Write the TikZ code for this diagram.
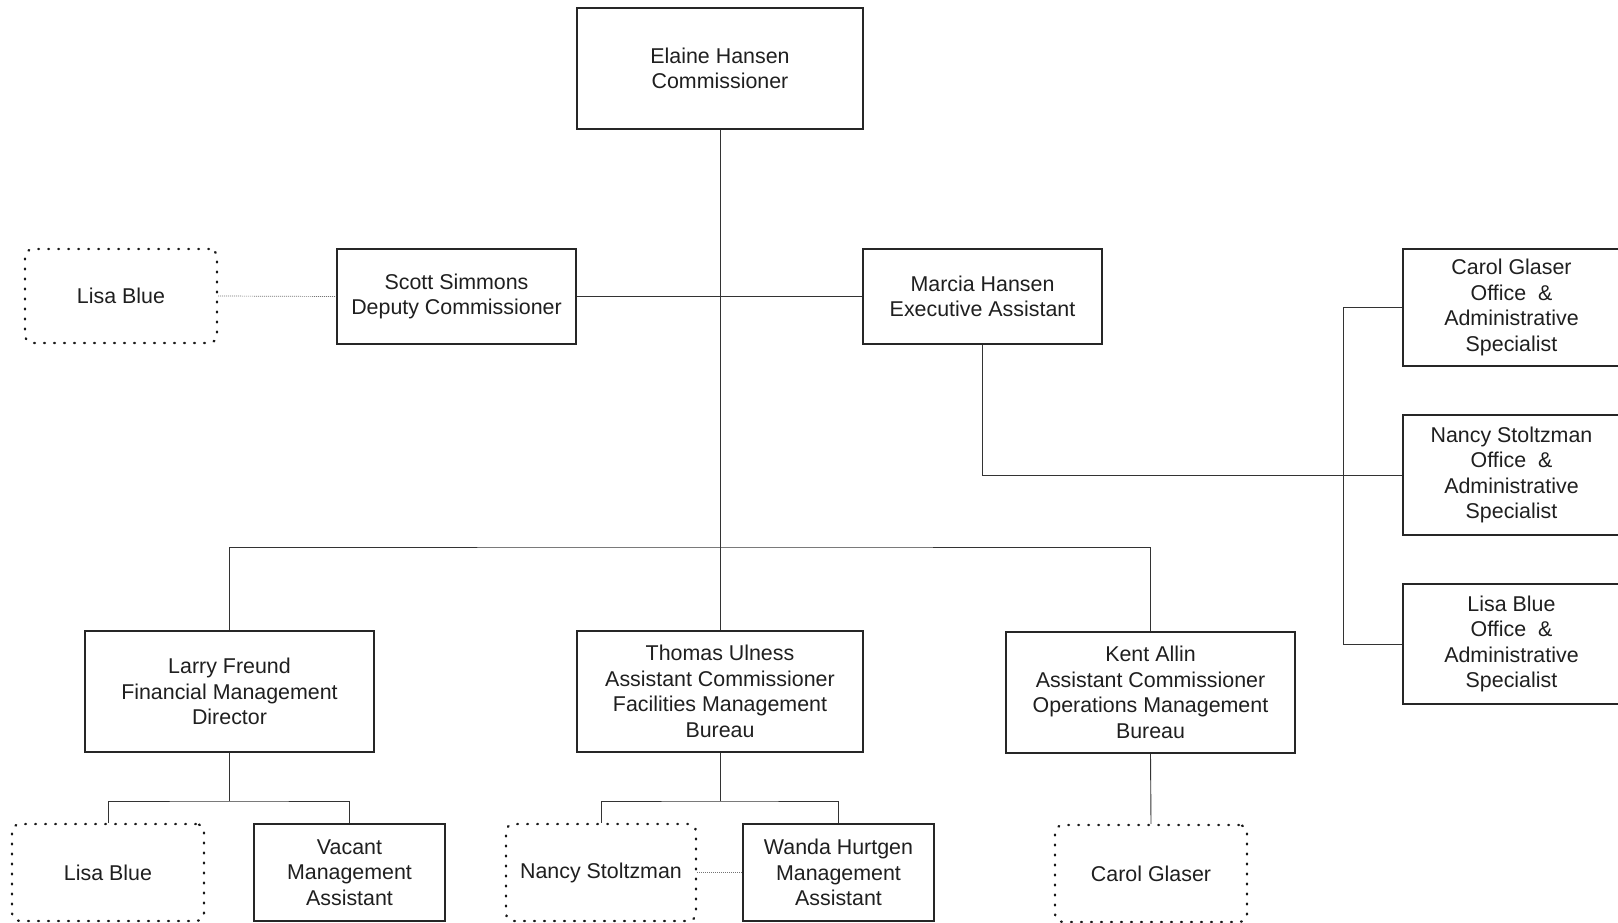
\documentclass[tikz,border=0pt]{standalone}
\usepackage{fontspec}
\setmainfont{Liberation Sans}
\begin{document}
\begin{tikzpicture}[x=1pt,y=-1pt,
  every node/.style={font=\fontsize{21.4}{25.5}\selectfont, text=black!88, align=center, inner sep=0pt},
  solidbox/.style={draw=black!85, line width=1.6pt},
  dotbox/.style={draw=black!90, line width=2.4pt, rounded corners=8pt, dash pattern=on 0.8pt off 9.2pt, line cap=round},
  conn/.style={draw=black!80, line width=0.9pt},
  dotconn/.style={draw=black!55, line width=0.7pt, dash pattern=on 1pt off 1pt}]
\useasboundingbox (0,0) rectangle (1618,923);
\fill[white] (0,0) rectangle (1618,923);
% top
\node[solidbox, minimum width=286pt, minimum height=121pt] (comm) at (720,68.5) {Elaine Hansen\\Commissioner};
\node[solidbox, minimum width=239pt, minimum height=95pt] (scott) at (456.5,296.5) {Scott Simmons\\Deputy Commissioner};
\node[dotbox, minimum width=192pt, minimum height=94pt] (lisa1) at (121,296) {Lisa Blue};
\node[solidbox, minimum width=239pt, minimum height=95pt] (marcia) at (982.5,296.5) {Marcia Hansen\\Executive Assistant};
% right column
\node[solidbox, minimum width=217pt, minimum height=117pt] (carolR) at (1511.5,307.5) {Carol Glaser\\Office\ \ \&\\Administrative\\Specialist};
\node[solidbox, minimum width=217pt, minimum height=120pt] (nancyR) at (1511.5,475) {Nancy Stoltzman\\Office\ \ \&\\Administrative\\Specialist};
\node[solidbox, minimum width=217pt, minimum height=120pt] (lisaR) at (1511.5,644) {Lisa Blue\\Office\ \ \&\\Administrative\\Specialist};
% middle row
\node[solidbox, minimum width=289pt, minimum height=121pt] (larry) at (229.5,691.5) {Larry Freund\\Financial Management\\Director};
\node[solidbox, minimum width=286pt, minimum height=121pt] (thomas) at (720,691.5) {Thomas Ulness\\Assistant Commissioner\\Facilities Management\\Bureau};
\node[solidbox, minimum width=289pt, minimum height=121pt] (kent) at (1150.5,692.5) {Kent Allin\\Assistant Commissioner\\Operations Management\\Bureau};
% bottom row
\node[dotbox, minimum width=192pt, minimum height=97pt] (lisa2) at (108,872.5) {Lisa Blue};
\node[solidbox, minimum width=191pt, minimum height=97pt] (vacant) at (349.5,872.5) {Vacant\\Management\\Assistant};
\node[dotbox, minimum width=190pt, minimum height=97pt] (nancy2) at (601,872.5) {Nancy Stoltzman};
\node[solidbox, minimum width=191pt, minimum height=97pt] (wanda) at (838.5,872.5) {Wanda Hurtgen\\Management\\Assistant};
\node[dotbox, minimum width=192pt, minimum height=97pt] (carol2) at (1151,873.5) {Carol Glaser};
% connectors
\coordinate (bus) at (720,547);
\coordinate (lbus) at (229.5,801);
\coordinate (tbus) at (720,801);
\draw[conn] (comm.south) -- (thomas.north);
\draw[conn] (scott.east) -- (marcia.west);
\draw[dotconn] (lisa1.east) -- (scott.west);
\draw[conn] (marcia.south) |- (nancyR.west);
\draw[conn] (carolR.west) -- ++(-59,0) |- (lisaR.west);
\draw[conn] (larry.north) |- (bus) -| (kent.north);
\draw[conn] (larry.south) -- (lbus);
\draw[conn] (lisa2.north) |- (lbus) -| (vacant.north);
\draw[conn] (thomas.south) -- (tbus);
\draw[conn] (nancy2.north) |- (tbus) -| (wanda.north);
\draw[conn] (kent.south) -- (carol2.north);
\draw[dotconn] (nancy2.east) -- (wanda.west);
\end{tikzpicture}
\end{document}
